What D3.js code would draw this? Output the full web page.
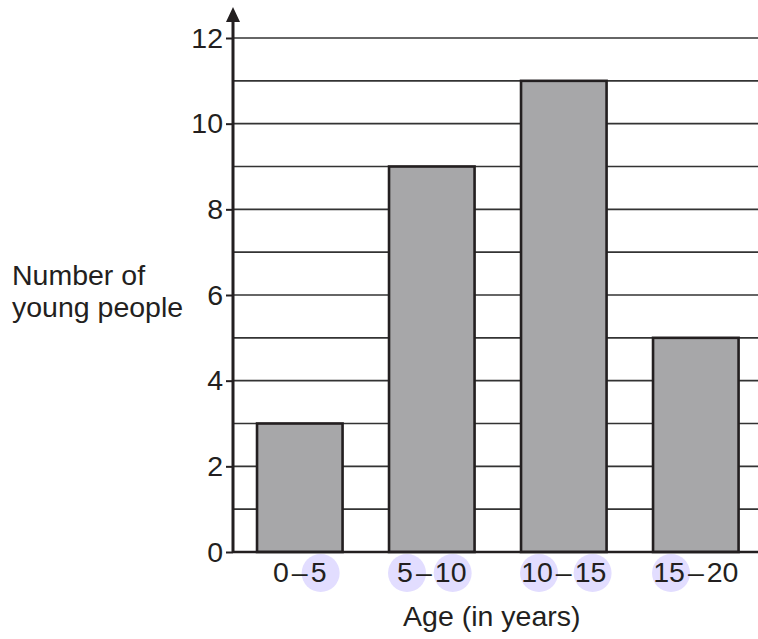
<!DOCTYPE html>
<html>
<head>
<meta charset="utf-8" />
<title>Age of young people</title>
<style>
  body { margin: 0; background: #fff; }
  text { font-family: "Liberation Sans", Arial, sans-serif; fill: #231f20; }
</style>
</head>
<body>
<svg width="758" height="639"></svg>
<script src="https://cdn.jsdelivr.net/npm/d3@7"></script>
<script>
// data
var ages = ['0-5', '5-10', '10-15', '15-20'];
var counts = [3, 9, 11, 5];
// label parts: [left number, right number], and which ones are circled
var labelParts = [['0', '5'], ['5', '10'], ['10', '15'], ['15', '20']];
var circled = [[false, true], [true, true], [true, true], [true, false]];
var yTicks = [0, 2, 4, 6, 8, 10, 12];

var svg = d3.select('svg');
var axisX = 233, fontSize = 28.5;

var y = d3.scaleLinear().domain([0, 12]).range([552, 38]);
var x = d3.scaleBand()
    .domain(ages)
    .range([axisX, 762.6])
    .paddingInner(0.352)
    .paddingOuter(0.182);

// horizontal grid lines, one for every unit
svg.append('g')
    .selectAll('line')
    .data(d3.range(1, 13))
    .enter()
    .append('line')
    .attr('x1', axisX)
    .attr('x2', 758)
    .attr('y1', function (d) { return y(d); })
    .attr('y2', function (d) { return y(d); })
    .attr('stroke', '#333')
    .attr('stroke-width', 1.6);

// bars
svg.append('g')
    .selectAll('rect')
    .data(counts)
    .enter()
    .append('rect')
    .attr('x', function (d, i) { return x(ages[i]); })
    .attr('y', function (d) { return y(d); })
    .attr('width', x.bandwidth())
    .attr('height', function (d) { return y(0) - y(d); })
    .attr('fill', '#a7a7a9')
    .attr('stroke', '#231f20')
    .attr('stroke-width', 2.6);

// y axis: ticks and labels
var yAxis = svg.append('g')
    .attr('transform', 'translate(' + axisX + ',0)')
    .call(d3.axisLeft(y).tickValues(yTicks).tickSize(7).tickPadding(3));
yAxis.select('.domain').remove();
yAxis.selectAll('.tick line').attr('stroke', '#231f20').attr('stroke-width', 2);
yAxis.selectAll('.tick text')
    .attr('font-size', fontSize)
    .attr('font-family', '"Liberation Sans", Arial, sans-serif')
    .attr('fill', '#231f20');

// baseline
svg.append('line')
    .attr('x1', axisX).attr('x2', 758)
    .attr('y1', y(0)).attr('y2', y(0))
    .attr('stroke', '#231f20').attr('stroke-width', 2.6);

// vertical axis with arrow
svg.append('line')
    .attr('x1', axisX).attr('x2', axisX)
    .attr('y1', y(0) + 1).attr('y2', 18)
    .attr('stroke', '#231f20').attr('stroke-width', 3);
svg.append('path')
    .attr('d', 'M' + axisX + ',7 L' + (axisX + 7) + ',22 L' + (axisX - 7) + ',22 Z')
    .attr('fill', '#231f20');

// x labels with circled numbers behind them
var circleLayer = svg.append('g');
var labels = svg.append('g')
    .selectAll('text')
    .data(labelParts)
    .enter()
    .append('text')
    .attr('x', function (d, i) { return x(ages[i]) + x.bandwidth() / 2; })
    .attr('y', 582)
    .attr('text-anchor', 'middle')
    .attr('font-size', fontSize);

labels.each(function (d, i) {
    var t = d3.select(this);
    var a = t.append('tspan').text(d[0]);
    t.append('tspan').attr('dx', 3).text('\u2013');
    var b = t.append('tspan').attr('dx', 3).text(d[1]);
    [a, b].forEach(function (sp, k) {
        if (!circled[i][k]) return;
        var bb = sp.node().getBBox();
        circleLayer.append('circle')
            .attr('cx', bb.x + bb.width / 2 + 2)
            .attr('cy', bb.y + bb.height / 2 + 1)
            .attr('r', 19)
            .attr('fill', '#e2ddff');
    });
});

// axis titles
svg.append('text')
    .attr('x', (x.range()[0] + x.range()[1]) / 2 - 6)
    .attr('y', 626)
    .attr('text-anchor', 'middle')
    .attr('font-size', fontSize)
    .text('Age (in years)');

var yTitle = svg.append('text')
    .attr('font-size', fontSize);
yTitle.append('tspan').attr('x', 12).attr('y', 285).text('Number of');
yTitle.append('tspan').attr('x', 12).attr('y', 317).text('young people');
</script>
</body>
</html>
